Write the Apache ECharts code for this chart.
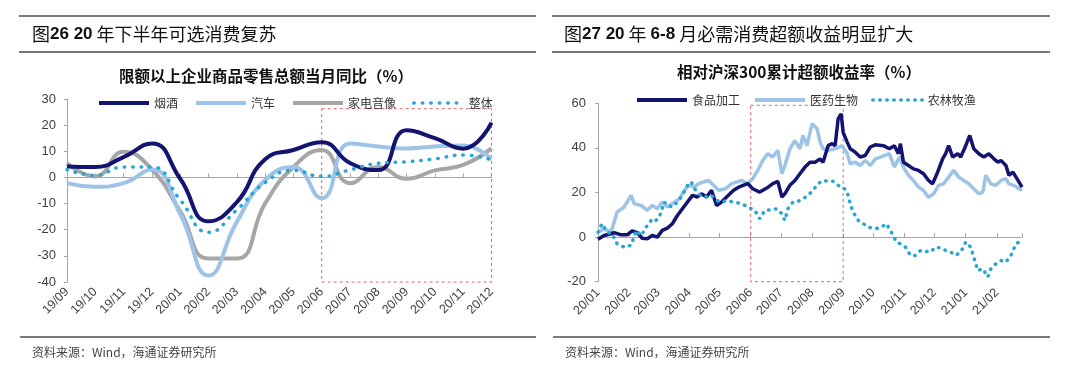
<!DOCTYPE html>
<html><head><meta charset="utf-8">
<script src="https://cdn.jsdelivr.net/npm/echarts@6/dist/echarts.min.js"></script>
<style>html,body{margin:0;padding:0;background:#fff}#c{width:1080px;height:378px}</style>
</head><body><div id="c"></div>
<script>
// ---------- Left chart data (monthly, %) ----------
const monthCats = ['19/09','19/10','19/11','19/12','20/01','20/02','20/03','20/04','20/05','20/06','20/07','20/08','20/09','20/10','20/11','20/12'];
const tobacco   = [4.2, 4.0, 7.8, 13.0, -0.5, -16.8, -9.5, 7.0, 10.5, 13.5, 5.5, 2.8, 18.0, 15.0, 11.0, 21.0];
const autos     = [-2.2, -3.6, -2.2, 3.0, -14.0, -37.5, -17.0, -1.0, 4.0, -8.0, 13.0, 11.8, 11.1, 11.8, 12.2, 7.0];
const appliance = [5.4, 0.4, 9.8, 3.0, -13.0, -31.0, -31.0, -10.0, 4.0, 10.5, -2.2, 4.0, -0.5, 2.7, 4.8, 11.1];
const overall   = [3.0, 0.8, 4.0, 4.0, -8.6, -21.0, -12.4, -2.0, 2.7, 0.4, 2.9, 5.4, 6.0, 7.1, 8.6, 6.7];
const leftYTicks = [-40, 30, 10]; // min, max, interval

// ---------- Right chart data (days since 2020-01-01, %) ----------
const foodDays = [0,6,13,16,23,29,34,39,44,49,54,59,64,69,74,79,84,89,94,99,103,108,113,118,123,128,135,140,149,154,161,168,174,179,183,186,191,196,201,206,211,216,221,224,229,233,236,239,242,244,248,251,256,261,266,271,276,284,290,295,299,301,304,309,314,319,324,329,333,338,343,346,349,353,358,361,366,370,374,379,384,389,394,398,401,406,409,413,418,422];
const foodVals = [-1,0.7,1.5,2,1,1,2.8,2,-0.5,-0.7,0.7,0,3,4,6,9.7,12.7,15.7,18.7,18,19.4,18,21,14.2,15.7,18,21,22.4,24,21.7,20.2,22,24,25,18,19.4,23.2,25.4,28.4,31.4,33.6,33.6,35,33.6,41,41.9,41,53,55.3,47,42.6,39.6,38.1,35.9,36.6,40.4,41.4,41,39.6,41,37.4,41.9,33.6,32.1,30.6,29.9,28.4,25.4,23.9,29.1,35.1,37.4,41,35.9,37.4,35.9,41,45.6,39.6,37.4,35.9,37.4,35.1,33.6,34.4,32.1,27.7,29.1,25.4,22.4];
const pharmaDays = [0,6,13,19,26,33,36,43,49,54,59,64,69,76,81,86,91,96,100,105,110,115,120,127,133,143,149,154,159,164,169,174,179,183,186,191,196,201,204,208,213,218,221,224,229,236,243,248,251,256,261,266,271,276,281,290,295,300,304,309,314,319,324,329,334,339,344,349,354,359,364,369,374,379,383,386,391,396,401,406,409,414,419,422];
const pharmaVals = [2.2,3.7,2.2,11.2,13.5,18.7,15,14.2,12,14.2,12.7,15.7,13.5,15.7,17.2,21,23.2,22.4,24,24.7,25.4,23.2,21,21.7,24,25.4,24,26.2,29.9,34.4,37.4,35.9,38.9,28.4,32.1,39.6,43.3,39.6,45.6,41,50.8,48.6,42.6,39.6,38.9,39.6,41,37.4,32.9,33.6,32.1,34.4,32.1,35.1,35.9,37.4,31.4,35.9,31.4,27.7,25.4,22.4,20.9,17.9,19.4,23.2,23.9,26.9,29.9,26.9,25.4,23.9,21.7,19.4,20.2,27.7,23.9,23.2,25.4,26.2,23.9,23.2,21.7,20.9];
const agriDays = [0,4,9,14,19,26,33,38,43,48,53,56,61,66,69,74,79,84,89,93,96,102,108,113,118,123,128,135,143,149,156,161,166,173,178,183,186,189,194,199,204,209,214,219,224,229,234,239,244,248,251,254,259,264,269,276,282,287,292,297,301,306,311,316,321,326,331,336,341,346,351,356,361,366,371,374,378,383,388,391,396,401,406,411,416,419,422];
const agriVals = [2.2,6,2.2,1.5,-3,-4.5,-3.7,3,0.7,4.5,7.5,6.7,9,15.7,14.2,13.5,15.7,18.7,23.2,24.7,21.7,18.7,18,18.7,16.4,15.7,16.4,15.7,15,13.5,12,8.2,12,12.3,12.7,10.5,7.5,12.7,15.7,16,17.2,18.7,21,23.9,25.4,25,25,23.2,22.4,20.2,15,11.2,7.5,6,4.5,3.7,4.5,6,2.2,-2.2,-3,-4.5,-8.2,-8.2,-6,-6.4,-6.7,-4.5,-4.9,-6,-6.7,-8.2,-6.7,-2.2,-4.5,-9,-15,-14.2,-17.9,-14.2,-12,-10.5,-11.2,-8.2,-3,-2.2,-3];
const rightYTicks = [-20, 60, 20];
const rightEndDay = 422;

const DAY = 86400000;
const base = new Date(2020, 0, 1).getTime();
const toTime = d => base + d * DAY;
const pairs = (days, vals) => days.map((d, i) => [toTime(d), vals[i]]);

const CJK = "'Noto Sans CJK SC', sans-serif";
const LAT = "'Liberation Sans', Arial, sans-serif";
const NAVY = '#13146F', LIGHT = '#9DC3E6', GRAY = '#A6A6A6', TEAL = '#2BA5D3';
const AXC = '#A6A6A6', BOX = '#E06666', RULE = '#4D4D4D';

const chart = echarts.init(document.getElementById('c'));

const rule = (x1, x2, y) => ({type:'line', silent:true, shape:{x1, y1:y, x2, y2:y}, style:{stroke:RULE, lineWidth:1.5}});
const headRich = {
  a:{fontFamily:CJK, fontSize:18, fill:'#111', fontWeight:'normal'},
  b:{fontFamily:LAT, fontSize:17, fill:'#111', fontWeight:'bold'}
};
const legendText = {fontFamily:CJK, fontSize:12, color:'#333'};

const option = {
  animation:false,
  backgroundColor:'#fff',
  graphic:[
    rule(19, 536, 16), rule(19, 536, 52), rule(20, 536, 337),
    rule(552, 1050, 16), rule(552, 1050, 52), rule(553, 1050, 337),
    {type:'text', silent:true, x:32, y:34, style:{text:'{a|图}{b|26 20}{a| 年下半年可选消费复苏}', rich:headRich, verticalAlign:'middle'}},
    {type:'text', silent:true, x:564, y:34, style:{text:'{a|图}{b|27 20}{a| 年 }{b|6-8}{a| 月必需消费超额收益明显扩大}', rich:headRich, verticalAlign:'middle'}},
    {type:'text', silent:true, x:266, y:76, style:{text:'限额以上企业商品零售总额当月同比（%）', fontFamily:CJK, fontSize:15.5, fontWeight:'bold', fill:'#111', align:'center', verticalAlign:'middle'}},
    {type:'text', silent:true, x:799, y:72, style:{text:'相对沪深300累计超额收益率（%）', fontFamily:CJK, fontSize:15.5, fontWeight:'bold', fill:'#111', align:'center', verticalAlign:'middle'}},
    {type:'text', silent:true, x:32, y:352, style:{text:'资料来源：Wind，海通证券研究所', fontFamily:CJK, fontSize:12, fill:'#444', verticalAlign:'middle'}},
    {type:'text', silent:true, x:565, y:352, style:{text:'资料来源：Wind，海通证券研究所', fontFamily:CJK, fontSize:12, fill:'#444', verticalAlign:'middle'}}
  ],
  legend:[
    {left:92, top:92, itemWidth:50, itemHeight:14, itemGap:16, selectedMode:false,
     itemStyle:{opacity:0}, textStyle:legendText,
     data:[
       {name:'烟酒', lineStyle:{width:4}},
       {name:'汽车', lineStyle:{width:4}},
       {name:'家电音像', lineStyle:{width:4}},
       {name:'整体', lineStyle:{width:3.5}}
     ]},
    {left:630, top:89, itemWidth:50, itemHeight:14, itemGap:13, selectedMode:false,
     itemStyle:{opacity:0}, textStyle:legendText,
     data:[
       {name:'食品加工', lineStyle:{width:4}},
       {name:'医药生物', lineStyle:{width:4}},
       {name:'农林牧渔', lineStyle:{width:3.5}}
     ]}
  ],
  grid:[
    {left:67, right:1080-491.5, top:99, bottom:378-282},
    {left:598, right:1080-1022, top:103.3, bottom:378-281.7}
  ],
  xAxis:[
    {gridIndex:0, type:'category', data:monthCats, boundaryGap:false, position:'bottom',
     axisLine:{show:false, onZero:false}, axisTick:{show:false}, splitLine:{show:false},
     axisLabel:{rotate:45, margin:8, fontFamily:LAT, fontSize:12.5, color:'#404040', interval:0}},
    {gridIndex:0, type:'category', data:monthCats, boundaryGap:false,
     axisLine:{show:true, onZero:true, lineStyle:{color:AXC, width:1}},
     axisTick:{show:true, length:4, interval:0, lineStyle:{color:AXC}}, axisLabel:{show:false}, splitLine:{show:false}},
    {gridIndex:1, type:'time', min:toTime(0), max:toTime(rightEndDay), position:'bottom',
     minInterval:28*DAY, maxInterval:31*DAY,
     axisLine:{show:false, onZero:false}, axisTick:{show:false}, splitLine:{show:false},
     axisLabel:{rotate:45, margin:9, fontFamily:LAT, fontSize:12.5, color:'#404040', formatter:'{yy}/{MM}', showMaxLabel:false, showMinLabel:true}},
    {gridIndex:1, type:'time', min:toTime(0), max:toTime(rightEndDay),
     minInterval:28*DAY, maxInterval:31*DAY,
     axisLine:{show:true, onZero:true, lineStyle:{color:AXC, width:1}},
     axisTick:{show:true, length:4, lineStyle:{color:AXC}}, axisLabel:{show:false}, splitLine:{show:false}}
  ],
  yAxis:[
    {gridIndex:0, type:'value', min:leftYTicks[0], max:leftYTicks[1], interval:leftYTicks[2],
     axisLine:{show:true, lineStyle:{color:AXC}}, axisTick:{show:true, length:3, lineStyle:{color:AXC}},
     splitLine:{show:false}, axisLabel:{margin:11, fontFamily:LAT, fontSize:13, color:'#404040'}},
    {gridIndex:1, type:'value', min:rightYTicks[0], max:rightYTicks[1], interval:rightYTicks[2],
     axisLine:{show:true, lineStyle:{color:AXC}}, axisTick:{show:true, length:3, lineStyle:{color:AXC}},
     splitLine:{show:false}, axisLabel:{margin:12, fontFamily:LAT, fontSize:13, color:'#404040'}}
  ],
  series:[
    {name:'烟酒', type:'line', xAxisIndex:0, yAxisIndex:0, data:tobacco, smooth:true, symbol:'none', z:4, clip:false,
     lineStyle:{color:NAVY, width:4}, itemStyle:{color:NAVY},
     markArea:{silent:true, label:{show:false},
       itemStyle:{color:'rgba(0,0,0,0)', borderColor:BOX, borderWidth:1, borderType:[3,3]},
       data:[[{xAxis:'20/06', yAxis:26.3}, {xAxis:'20/12', yAxis:-40.7}]]}},
    {name:'汽车', type:'line', xAxisIndex:0, yAxisIndex:0, data:autos, smooth:true, symbol:'none', z:3,
     lineStyle:{color:LIGHT, width:4}, itemStyle:{color:LIGHT}},
    {name:'家电音像', type:'line', xAxisIndex:0, yAxisIndex:0, data:appliance, smooth:true, symbol:'none', z:2,
     lineStyle:{color:GRAY, width:4}, itemStyle:{color:GRAY}},
    {name:'整体', type:'line', xAxisIndex:0, yAxisIndex:0, data:overall, smooth:true, symbol:'none', z:5,
     lineStyle:{color:TEAL, width:3.5, type:[0.5, 8], cap:'round'}, itemStyle:{color:TEAL}},

    {name:'食品加工', type:'line', xAxisIndex:2, yAxisIndex:1, data:pairs(foodDays, foodVals), symbol:'none', z:4, clip:false,
     lineStyle:{color:NAVY, width:3.5}, itemStyle:{color:NAVY},
     markArea:{silent:true, label:{show:false},
       itemStyle:{color:'rgba(0,0,0,0)', borderColor:BOX, borderWidth:1, borderType:[3,3]},
       data:[[{xAxis:toTime(152), yAxis:59.1}, {xAxis:toTime(244), yAxis:-23}]]}},
    {name:'医药生物', type:'line', xAxisIndex:2, yAxisIndex:1, data:pairs(pharmaDays, pharmaVals), symbol:'none', z:3,
     lineStyle:{color:LIGHT, width:3.5}, itemStyle:{color:LIGHT}},
    {name:'农林牧渔', type:'line', xAxisIndex:2, yAxisIndex:1, data:pairs(agriDays, agriVals), symbol:'none', z:5,
     lineStyle:{color:TEAL, width:3.5, type:[0.5, 6.5], cap:'round'}, itemStyle:{color:TEAL}}
  ]
};
chart.setOption(option);
</script>
</body></html>
